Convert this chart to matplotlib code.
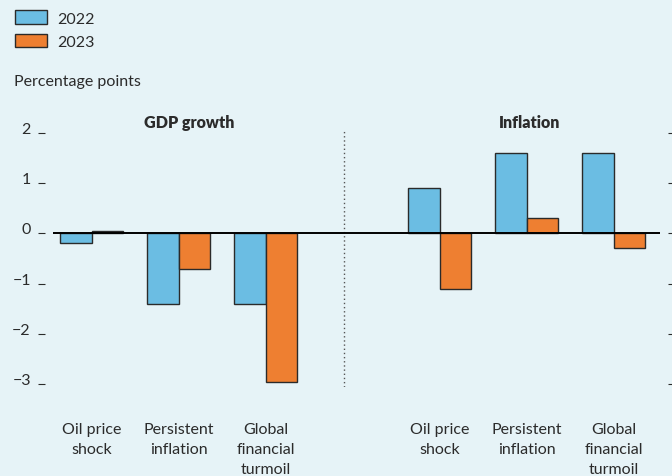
import matplotlib
matplotlib.use("Agg")
import matplotlib.pyplot as plt
from matplotlib.patches import Patch
import numpy as np

plt.rcParams['font.family'] = ['Lato', 'DejaVu Sans']

categories = ["Oil price\nshock", "Persistent\ninflation", "Global\nfinancial\nturmoil"]
groups = ["GDP growth", "Inflation"]
gdp_2022 = [-0.2, -1.4, -1.4]
gdp_2023 = [0.05, -0.7, -2.95]
infl_2022 = [0.9, 1.6, 1.6]
infl_2023 = [-1.1, 0.3, -0.3]
series_labels = ["2022", "2023"]
yticks = [2, 1, 0, -1, -2, -3]
ytick_labels = ["2", "1", "0", "\u22121", "\u22122", "\u22123"]

BG = "#e6f3f7"
BLUE = "#6bbde3"
ORANGE = "#ee7f31"
EDGE = "#2a2a2a"
TXT = "#2b2b2b"
FS = 11.5

fig = plt.figure(figsize=(6.72, 4.77), dpi=100, facecolor=BG)
ax = fig.add_axes([53/672, 1-388/477, (668-53)/672, (388-131)/477])
ax.set_facecolor(BG)

pos_gdp = np.array([0, 1, 2])
pos_inf = np.array([4, 5, 6])
w = 0.36
for pos, s22, s23 in [(pos_gdp, gdp_2022, gdp_2023), (pos_inf, infl_2022, infl_2023)]:
    ax.bar(pos - w/2, s22, width=w, color=BLUE, edgecolor=EDGE, linewidth=1, zorder=2)
    ax.bar(pos + w/2, s23, width=w, color=ORANGE, edgecolor=EDGE, linewidth=1, zorder=2)

ax.set_xlim(-0.443, 6.626)
ax.set_ylim(-3.05, 2.05)
ax.hlines(0, -0.443, 6.53, color="black", linewidth=1.4, zorder=3)
ax.axvline(2.9, color="#555555", linestyle=(0, (1, 2)), linewidth=1, zorder=1)

for sp in ax.spines.values():
    sp.set_visible(False)
ax.spines['left'].set_position(('outward', 6))

ax.set_yticks(yticks)
ax.set_yticklabels(ytick_labels)
ax.tick_params(axis='y', left=True, right=True, length=5, width=0.8, color=TXT,
               labelsize=FS, labelcolor=TXT, pad=5, direction='out')
for lbl in ax.get_yticklabels():
    lbl.set_verticalalignment('baseline')

ax.set_xticks(np.concatenate([pos_gdp, pos_inf]))
ax.set_xticklabels(categories + categories, linespacing=1.55)
ax.tick_params(axis='x', length=0, labelsize=FS, labelcolor=TXT, pad=25)

ax.text(1.12, 2.21, groups[0], ha='center', va='center', fontsize=FS,
        fontweight='heavy', color=TXT, clip_on=False)
ax.text(5.04, 2.21, groups[1], ha='center', va='center', fontsize=FS,
        fontweight='heavy', color=TXT, clip_on=False)

fig.text(14/672, 1-82/477, "Percentage points", ha='left', va='center',
         fontsize=FS, color=TXT)

handles = [Patch(facecolor=BLUE, edgecolor=EDGE, linewidth=1),
           Patch(facecolor=ORANGE, edgecolor=EDGE, linewidth=1)]
fig.legend(handles, series_labels, loc='upper left', bbox_to_anchor=(9/672, 1-5/477),
           frameon=False, fontsize=FS, handlelength=2.0, handleheight=0.9,
           handletextpad=0.6, labelspacing=0.5, labelcolor=TXT, borderaxespad=0)

fig.savefig("out.png", dpi=100, facecolor=BG)
